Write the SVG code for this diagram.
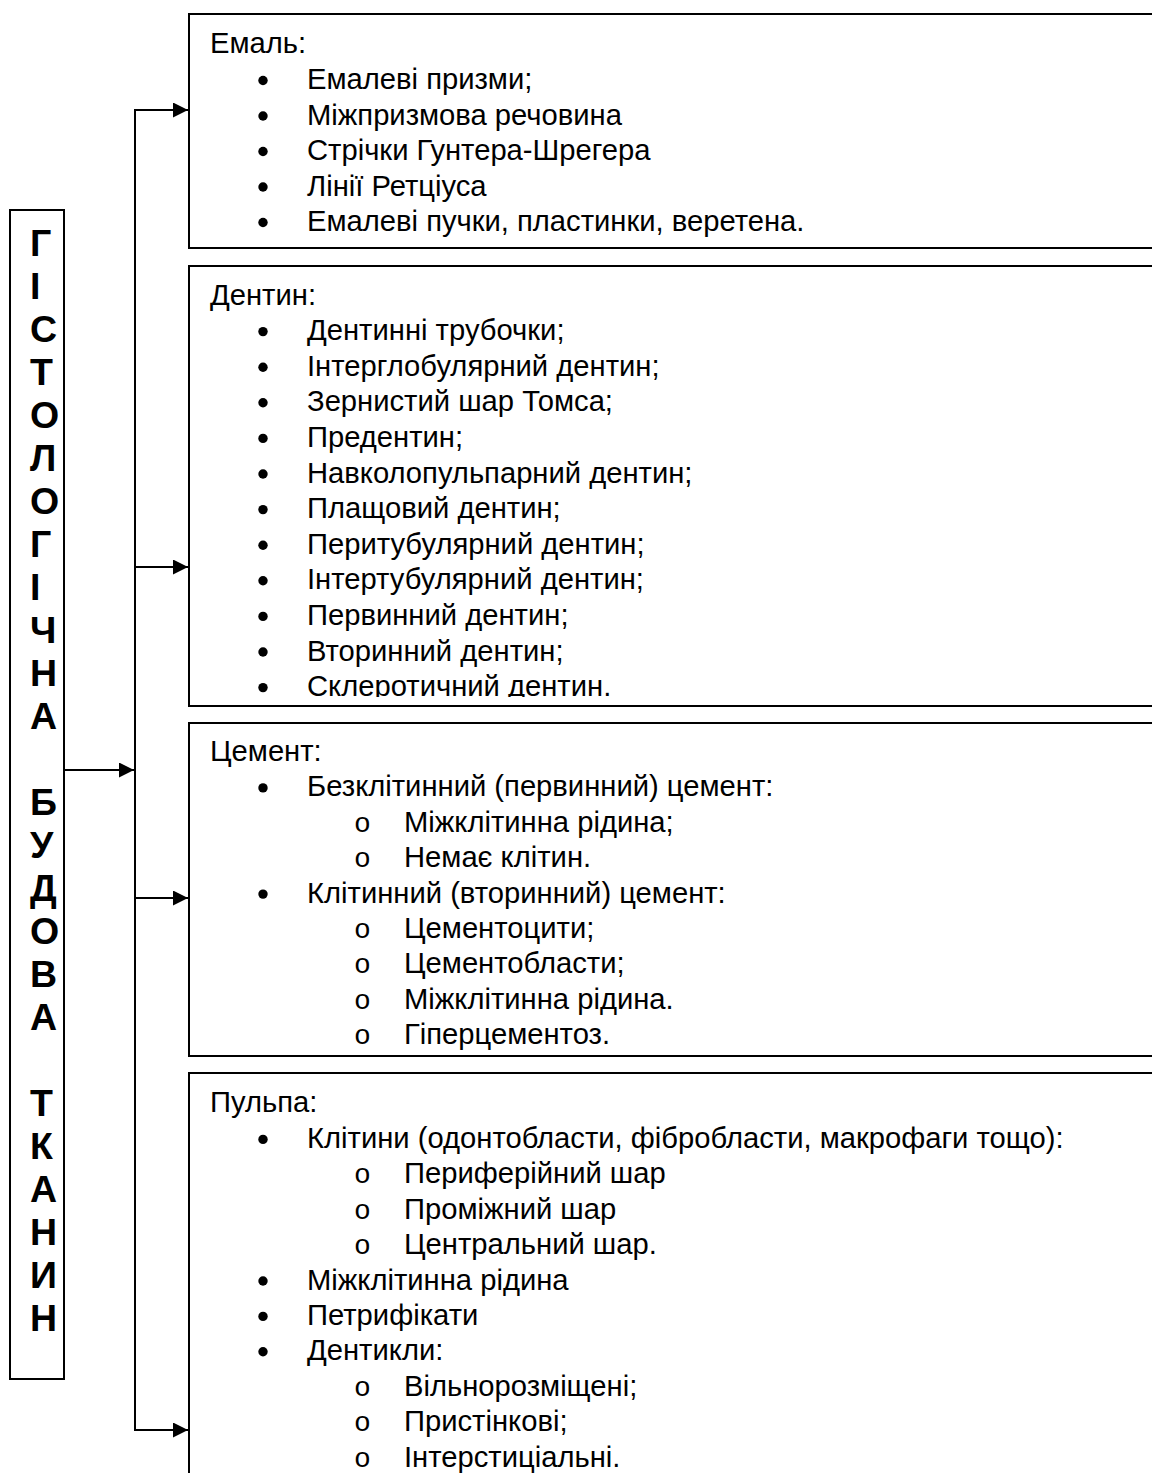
<svg xmlns="http://www.w3.org/2000/svg" width="1152" height="1473" viewBox="0 0 1152 1473">
<style>
.box{fill:#fff;stroke:#000;stroke-width:2}
.t{font-family:"Liberation Sans",Arial,sans-serif;font-size:29.2px;fill:#000}
.o{font-family:"Liberation Mono","Courier New",monospace;font-size:28px;fill:#000}
.v{font-family:"Liberation Sans",Arial,sans-serif;font-size:37.5px;font-weight:bold;fill:#000}
.ln{fill:none;stroke:#000;stroke-width:2}
.b{fill:#000}
</style>
<defs>
<marker id="ah" viewBox="0 0 15 15" refX="15" refY="7.5" markerWidth="15" markerHeight="15" markerUnits="userSpaceOnUse" orient="auto">
<path d="M0,0 L15,7.5 L0,15 Z" fill="#000"/>
</marker>
<clipPath id="cd"><rect x="189" y="266" width="980" height="431"/></clipPath>
</defs>
<rect width="1152" height="1473" fill="#fff"/>

<g id="connectors">
<line class="ln" x1="135" y1="109" x2="135" y2="1431"/>
<line class="ln" x1="64" y1="770" x2="134" y2="770" marker-end="url(#ah)"/>
<line class="ln" x1="134" y1="110" x2="188" y2="110" marker-end="url(#ah)"/>
<line class="ln" x1="134" y1="567" x2="188" y2="567" marker-end="url(#ah)"/>
<line class="ln" x1="134" y1="898" x2="188" y2="898" marker-end="url(#ah)"/>
<line class="ln" x1="134" y1="1430" x2="188" y2="1430" marker-end="url(#ah)"/>
</g>

<g id="root">
<rect class="box" x="10" y="210" width="54" height="1169"/>
<text class="v" x="30" y="256">Г</text>
<text class="v" x="30" y="299">І</text>
<text class="v" x="30" y="342">С</text>
<text class="v" x="30" y="385">Т</text>
<text class="v" x="30" y="428">О</text>
<text class="v" x="30" y="471">Л</text>
<text class="v" x="30" y="514">О</text>
<text class="v" x="30" y="557">Г</text>
<text class="v" x="30" y="600">І</text>
<text class="v" x="30" y="643">Ч</text>
<text class="v" x="30" y="686">Н</text>
<text class="v" x="30" y="729">А</text>
<text class="v" x="30" y="815">Б</text>
<text class="v" x="30" y="858">У</text>
<text class="v" x="30" y="901">Д</text>
<text class="v" x="30" y="944">О</text>
<text class="v" x="30" y="987">В</text>
<text class="v" x="30" y="1030">А</text>
<text class="v" x="30" y="1116">Т</text>
<text class="v" x="30" y="1159">К</text>
<text class="v" x="30" y="1202">А</text>
<text class="v" x="30" y="1245">Н</text>
<text class="v" x="30" y="1288">И</text>
<text class="v" x="30" y="1331">Н</text>
</g>

<g id="emal">
<rect class="box" x="189" y="14" width="980" height="234"/>
<text class="t" x="210" y="53">Емаль:</text>
<circle class="b" cx="263" cy="80.5" r="4.7"/><text class="t" x="307" y="89">Емалеві призми;</text>
<circle class="b" cx="263" cy="116" r="4.7"/><text class="t" x="307" y="124.5">Міжпризмова речовина</text>
<circle class="b" cx="263" cy="151.5" r="4.7"/><text class="t" x="307" y="160">Стрічки Гунтера-Шрегера</text>
<circle class="b" cx="263" cy="187" r="4.7"/><text class="t" x="307" y="195.5">Лінії Ретціуса</text>
<circle class="b" cx="263" cy="222.5" r="4.7"/><text class="t" x="307" y="231">Емалеві пучки, пластинки, веретена.</text>
</g>

<g id="dentin">
<rect class="box" x="189" y="266" width="980" height="440"/>
<g clip-path="url(#cd)">
<text class="t" x="210" y="304.5">Дентин:</text>
<circle class="b" cx="263" cy="331.6" r="4.7"/><text class="t" x="307" y="340.1">Дентинні трубочки;</text>
<circle class="b" cx="263" cy="367.2" r="4.7"/><text class="t" x="307" y="375.7">Інтерглобулярний дентин;</text>
<circle class="b" cx="263" cy="402.8" r="4.7"/><text class="t" x="307" y="411.3">Зернистий шар Томса;</text>
<circle class="b" cx="263" cy="438.4" r="4.7"/><text class="t" x="307" y="446.9">Предентин;</text>
<circle class="b" cx="263" cy="474" r="4.7"/><text class="t" x="307" y="482.5">Навколопульпарний дентин;</text>
<circle class="b" cx="263" cy="509.6" r="4.7"/><text class="t" x="307" y="518.1">Плащовий дентин;</text>
<circle class="b" cx="263" cy="545.2" r="4.7"/><text class="t" x="307" y="553.7">Перитубулярний дентин;</text>
<circle class="b" cx="263" cy="580.8" r="4.7"/><text class="t" x="307" y="589.3">Інтертубулярний дентин;</text>
<circle class="b" cx="263" cy="616.4" r="4.7"/><text class="t" x="307" y="624.9">Первинний дентин;</text>
<circle class="b" cx="263" cy="652" r="4.7"/><text class="t" x="307" y="660.5">Вторинний дентин;</text>
<circle class="b" cx="263" cy="687.6" r="4.7"/><text class="t" x="307" y="696.1">Склеротичний дентин.</text>
</g>
</g>

<g id="cement">
<rect class="box" x="189" y="723" width="980" height="333"/>
<text class="t" x="210" y="761">Цемент:</text>
<circle class="b" cx="263" cy="787.9" r="4.7"/><text class="t" x="307" y="796.4">Безклітинний (первинний) цемент:</text>
<text class="o" x="354" y="831.8">o</text><text class="t" x="404" y="831.8">Міжклітинна рідина;</text>
<text class="o" x="354" y="867.2">o</text><text class="t" x="404" y="867.2">Немає клітин.</text>
<circle class="b" cx="263" cy="894.1" r="4.7"/><text class="t" x="307" y="902.6">Клітинний (вторинний) цемент:</text>
<text class="o" x="354" y="938">o</text><text class="t" x="404" y="938">Цементоцити;</text>
<text class="o" x="354" y="973.4">o</text><text class="t" x="404" y="973.4">Цементобласти;</text>
<text class="o" x="354" y="1008.8">o</text><text class="t" x="404" y="1008.8">Міжклітинна рідина.</text>
<text class="o" x="354" y="1044.2">o</text><text class="t" x="404" y="1044.2">Гіперцементоз.</text>
</g>

<g id="pulpa">
<rect class="box" x="189" y="1073" width="980" height="420"/>
<text class="t" x="210" y="1112">Пульпа:</text>
<circle class="b" cx="263" cy="1139.4" r="4.7"/><text class="t" x="307" y="1147.9">Клітини (одонтобласти, фібробласти, макрофаги тощо):</text>
<text class="o" x="354" y="1183.3">o</text><text class="t" x="404" y="1183.3">Периферійний шар</text>
<text class="o" x="354" y="1218.7">o</text><text class="t" x="404" y="1218.7">Проміжний шар</text>
<text class="o" x="354" y="1254.1">o</text><text class="t" x="404" y="1254.1">Центральний шар.</text>
<circle class="b" cx="263" cy="1281" r="4.7"/><text class="t" x="307" y="1289.5">Міжклітинна рідина</text>
<circle class="b" cx="263" cy="1316.4" r="4.7"/><text class="t" x="307" y="1324.9">Петрифікати</text>
<circle class="b" cx="263" cy="1351.8" r="4.7"/><text class="t" x="307" y="1360.3">Дентикли:</text>
<text class="o" x="354" y="1395.7">o</text><text class="t" x="404" y="1395.7">Вільнорозміщені;</text>
<text class="o" x="354" y="1431.1">o</text><text class="t" x="404" y="1431.1">Пристінкові;</text>
<text class="o" x="354" y="1466.5">o</text><text class="t" x="404" y="1466.5">Інтерстиціальні.</text>
</g>
</svg>
